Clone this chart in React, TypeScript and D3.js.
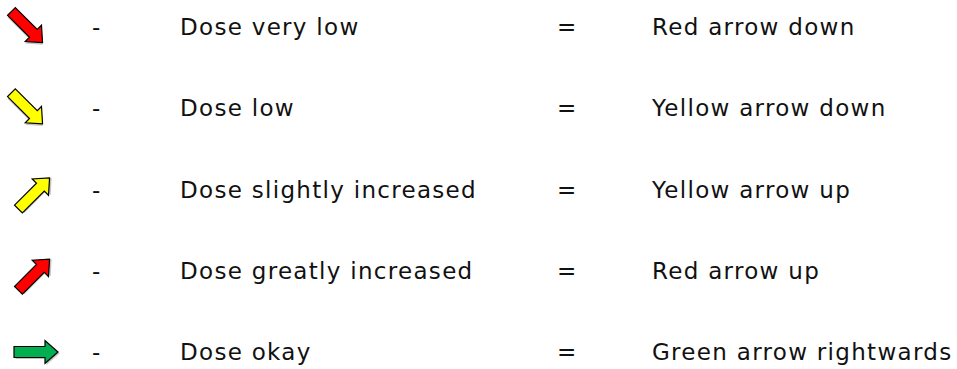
import React from "react";
import * as d3 from "d3";

const levels = ["Dose very low", "Dose low", "Dose slightly increased", "Dose greatly increased", "Dose okay"];
const meanings = ["Red arrow down", "Yellow arrow down", "Yellow arrow up", "Red arrow up", "Green arrow rightwards"];
const arrowColors = ["#ff0000", "#ffff00", "#ffff00", "#ff0000", "#00b050"];
const arrowAngles = [45, 45, -45, -45, 0];

const W = 957;
const H = 369;

export default function App() {
  const y = d3.scalePoint<number>().domain(d3.range(levels.length)).range([27, 352]);
  const L = 44, sw = 11, hw = 23, hl = 13;
  const pts: [number, number][] = [
    [-L / 2, -sw / 2],
    [L / 2 - hl, -sw / 2],
    [L / 2 - hl, -hw / 2],
    [L / 2, 0],
    [L / 2 - hl, hw / 2],
    [L / 2 - hl, sw / 2],
    [-L / 2, sw / 2],
  ];
  const arrowPath = d3.line()(pts) + "Z";
  const font = "'DejaVu Sans', Verdana, sans-serif";
  return (
    <svg width={W} height={H} style={{ position: "absolute", left: 0, top: 0, background: "#fff" }}>
      {levels.map((lv, i) => {
        const cy = y(i)!;
        const a = arrowAngles[i];
        const cx = a === 0 ? 36 : a > 0 ? 27 : 34;
        const ay = a < 0 ? cy + 4 : cy;
        return (
          <g key={i}>
            <g transform={`translate(${cx},${ay}) rotate(${a})`}>
              <path d={arrowPath} transform="translate(1.5,1.5)" fill="#888" opacity={0.5} />
              <path d={arrowPath} fill={arrowColors[i]} stroke="#000" strokeWidth={1.2} strokeLinejoin="miter" />
            </g>
            <g fontFamily={font} fontSize={23} letterSpacing={1.3} fill="#111" dominantBaseline="central">
              <text x={92} y={cy}>-</text>
              <text x={180} y={cy}>{lv}</text>
              <text x={557} y={cy}>=</text>
              <text x={652} y={cy}>{meanings[i]}</text>
            </g>
          </g>
        );
      })}
    </svg>
  );
}
